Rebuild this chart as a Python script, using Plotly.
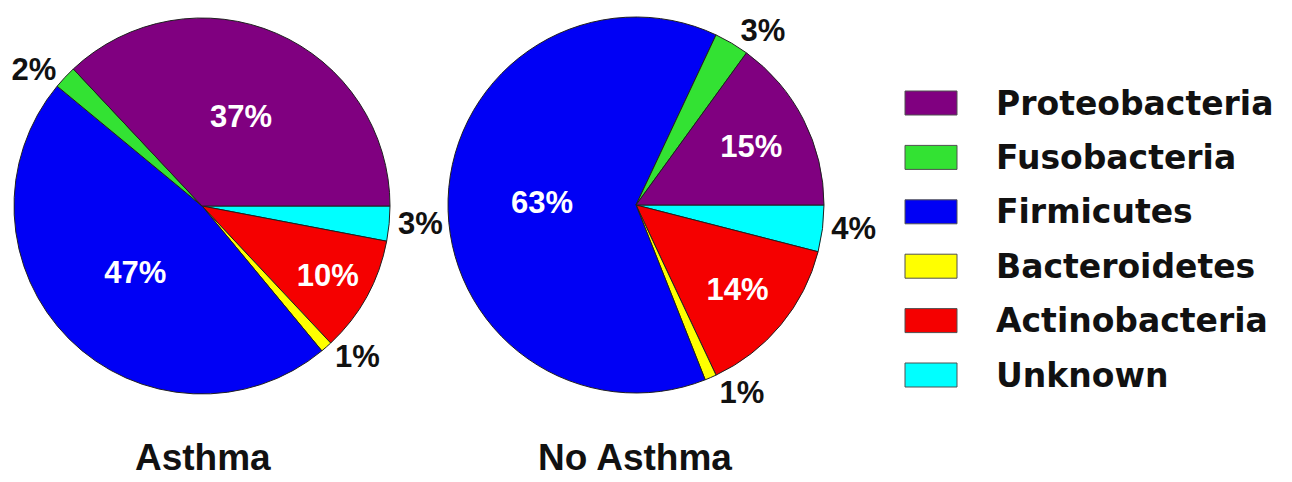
import plotly.graph_objects as go

W, H = 1292, 482

# ---- data ----
categories = ["Unknown", "Actinobacteria", "Bacteroidetes", "Firmicutes", "Fusobacteria", "Proteobacteria"]
asthma_values = [3, 10, 1, 47, 2, 37]
no_asthma_values = [4, 14, 1, 63, 3, 15]
group_titles = ["Asthma", "No Asthma"]
legend_order = ["Proteobacteria", "Fusobacteria", "Firmicutes", "Bacteroidetes", "Actinobacteria", "Unknown"]

colors = {
    "Proteobacteria": "#800080",
    "Fusobacteria": "#33e233",
    "Firmicutes": "#0000f5",
    "Bacteroidetes": "#ffff00",
    "Actinobacteria": "#f50000",
    "Unknown": "#00ffff",
}

FONT = "Liberation Sans, Arial, sans-serif"


def px_x(p):
    return p / W


def px_y(p):
    return 1 - p / H


def positions(vals):
    return ["inside" if v >= 10 else "outside" for v in vals]


fig = go.Figure()

pie_specs = [
    (asthma_values, (14, 390), (18, 394)),
    (no_asthma_values, (448, 824), (17, 393)),
]

for vals, (x0, x1), (y0, y1) in pie_specs:
    fig.add_trace(go.Pie(
        labels=categories,
        values=vals,
        sort=False,
        direction="clockwise",
        rotation=90,
        marker=dict(colors=[colors[c] for c in categories],
                    line=dict(color="#202020", width=1)),
        texttemplate="%{value}%",
        textposition=positions(vals),
        insidetextorientation="horizontal",
        insidetextfont=dict(family=FONT, size=31, color="white", weight="bold"),
        outsidetextfont=dict(family=FONT, size=31, color="#111111", weight="bold"),
        domain=dict(x=[px_x(x0), px_x(x1)], y=[px_y(y1), px_y(y0)]),
        showlegend=False,
        hoverinfo="label+value",
    ))

# group titles under each pie
title_pos = [(203, 480), (635, 480)]
for t, (tx, ty) in zip(group_titles, title_pos):
    fig.add_annotation(x=px_x(tx), y=px_y(ty), xref="paper", yref="paper",
                       text=t, showarrow=False, xanchor="center", yanchor="bottom",
                       font=dict(family=FONT, size=37, color="#111111", weight="bold"))

# custom legend (large rectangular swatches)
row0, step = 103, 54.4
for i, name in enumerate(legend_order):
    cy = row0 + i * step
    fig.add_shape(type="rect", xref="paper", yref="paper",
                  x0=px_x(905), x1=px_x(957), y0=px_y(cy + 12), y1=px_y(cy - 12),
                  fillcolor=colors[name], line=dict(color="#505050", width=1))
    fig.add_annotation(x=px_x(994), y=px_y(cy), xref="paper", yref="paper",
                       text=name, showarrow=False, xanchor="left", yanchor="middle",
                       font=dict(family="DejaVu Sans, sans-serif", size=33, color="#111111", weight="bold"))

fig.update_layout(
    width=W, height=H,
    margin=dict(l=0, r=0, t=0, b=0),
    paper_bgcolor="white", plot_bgcolor="white",
)

fig.write_html("out.html")
